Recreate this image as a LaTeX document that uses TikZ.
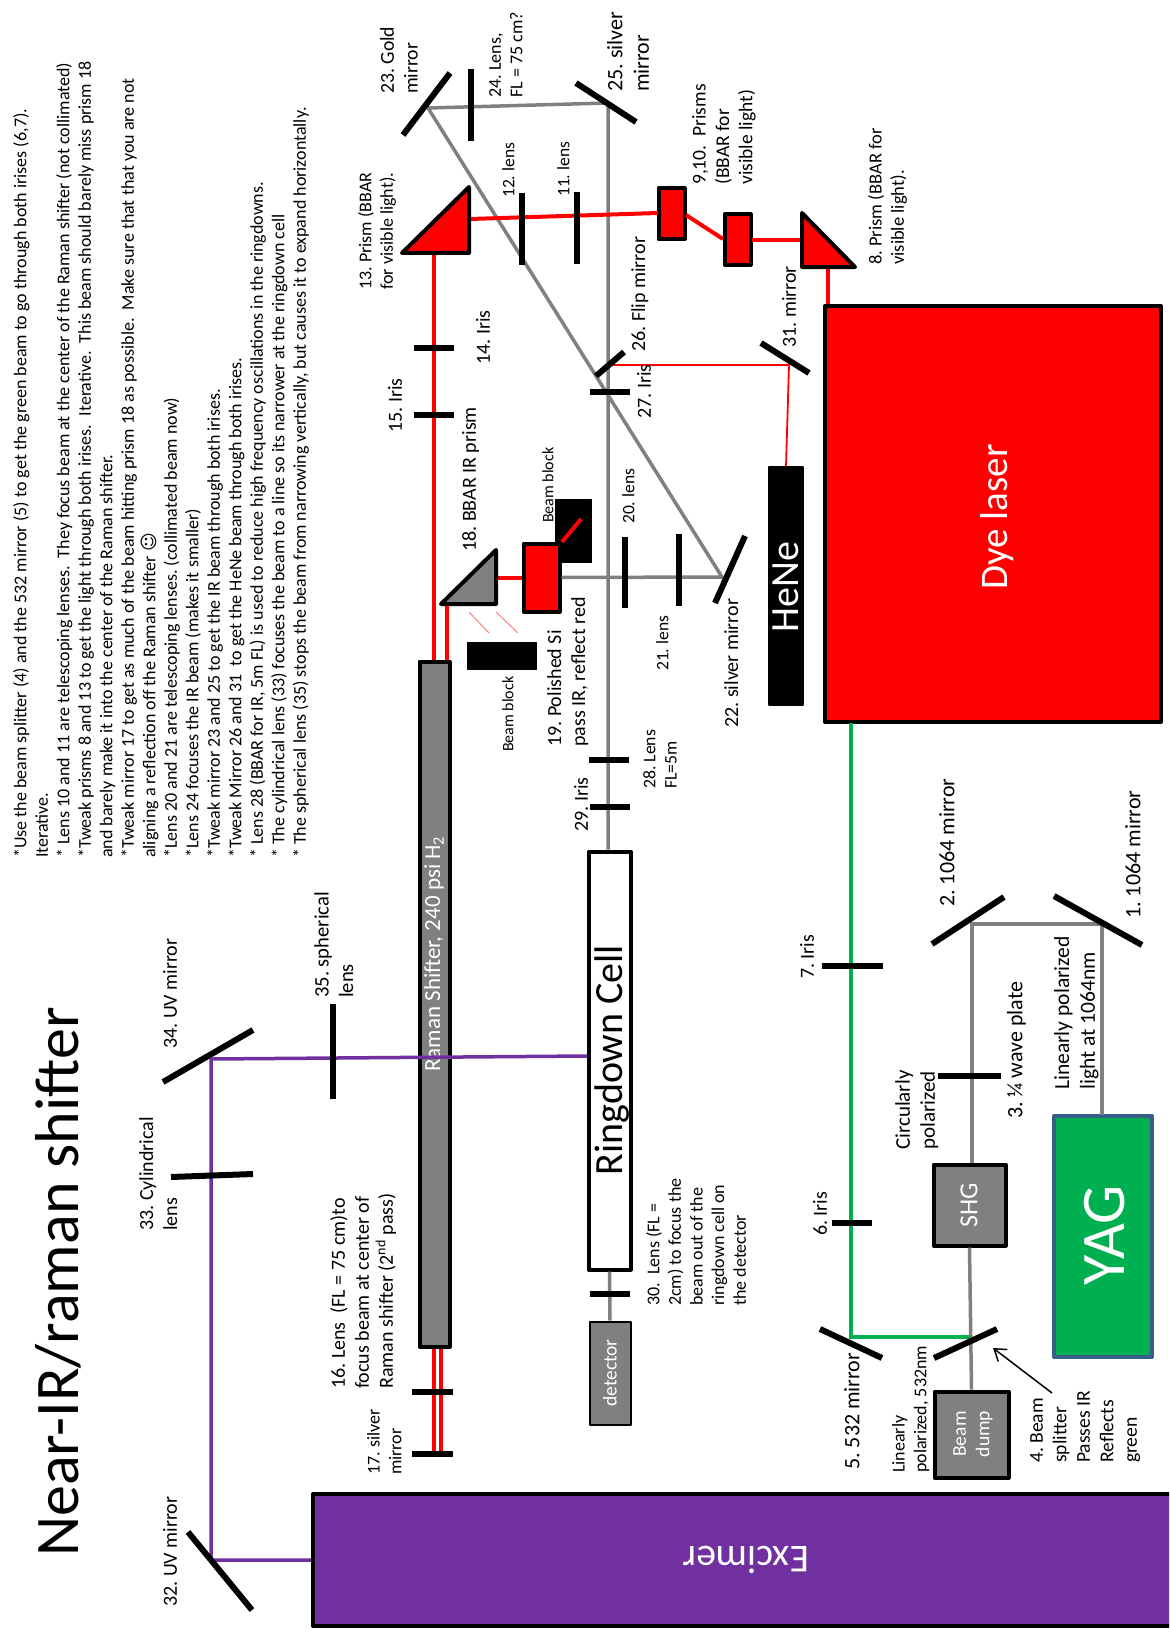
\documentclass[tikz,border=0pt]{standalone}
\usepackage{fontspec}
\setmainfont{Carlito}
\newfontfamily\symfont{DejaVu Sans}
\usetikzlibrary{arrows.meta}
\frenchspacing
\definecolor{uvpurple}{RGB}{112, 48, 160}
\definecolor{yaggreen}{RGB}{0, 176, 80}
\definecolor{yagblue}{RGB}{56, 93, 138}
\definecolor{irgray}{RGB}{128, 128, 128}
\definecolor{raypink}{RGB}{255, 128, 128}

\begin{document}
\begin{tikzpicture}[
    x=1pt, y=-1pt,
    lbl/.style={rotate=90, anchor=north west, align=left, inner sep=0pt,
        font=\fontsize{#1}{#1}\linespread{1.2}\selectfont},
    lbl/.default=20,
    mid/.style={rotate=90, anchor=center, align=center, inner sep=0pt, text=white,
        font=\fontsize{#1}{#1}\linespread{1.2}\selectfont},
    box/.style={draw=black, fill=#1, line width=4pt, inner sep=0pt, line join=round},
    optic/.style={draw=black, line width=6pt},
    irbeam/.style={draw=irgray, line width=3.5pt, line join=miter},
    redbeam/.style={draw=red, line width=4pt},
    thinred/.style={draw=red, line width=1.8pt},
    greenbeam/.style={draw=yaggreen, line width=3.5pt},
    uvbeam/.style={draw=uvpurple, line width=3.5pt},
    prism/.style={draw=black, fill=#1, line width=4pt, line join=round}
]
    \useasboundingbox (0,0) rectangle (1169,1637);
    \clip (0,0) rectangle (1169,1637);

    % Boxes
    \node[box=red, minimum width=336pt, minimum height=416pt] (dye) at (993,514) {};
    \node[box=black, line width=2pt, minimum width=34pt, minimum height=238pt] (hene) at (786,586) {};
    \node[box=yaggreen, draw=yagblue, minimum width=98pt, minimum height=241pt] (yag) at (1103,1236.5) {};
    \node[box=irgray, minimum width=72pt, minimum height=81pt] (shg) at (969.5,1205) {};
    \node[box=irgray, minimum width=74pt, minimum height=86pt] (dump) at (971.5,1434.5) {};
    \node[box=irgray, line width=2pt, minimum width=41pt, minimum height=103pt] (detector) at (610,1373) {};
    \node[box=white, minimum width=42pt, minimum height=418pt] (ring) at (609.5,1060.5) {};
    \node[box=irgray, minimum width=30pt, minimum height=685pt] (raman) at (434.5,1004) {};
    \node[box=uvpurple, minimum width=864pt, minimum height=132pt] (excimer) at (745,1560) {};
    \node[box=black, line width=1pt, minimum width=36pt, minimum height=63pt] (block_top) at (573.5,531) {};
    \node[box=black, line width=1pt, minimum width=69pt, minimum height=27pt] (block_low) at (502,656) {};
    \node[box=red, minimum width=26pt, minimum height=51pt] (p9) at (671.5,214) {};
    \node[box=red, minimum width=26pt, minimum height=50pt] (p10) at (737.5,239.5) {};
    \node[box=red, minimum width=36pt, minimum height=68pt] (p19) at (541.5,577.5) {};

    % Text inside the boxes
    \node[mid=39] (dye_txt) at (997,517) {Dye laser};
    \node[mid=40] (hene_txt) at (786,587) {HeNe};
    \node[mid=62] (yag_txt) at (1105,1235) {YAG};
    \node[mid=26] (shg_txt) at (969,1205) {SHG};
    \node[mid=19.5] (dump_txt) at (973,1434) {Beam\\dump};
    \node[mid=19.5] (detector_txt) at (610,1373) {detector};
    \node[mid=40, text=black] (ring_txt) at (612,1060) {Ringdown Cell};
    \node[mid=23] (raman_txt) at (434,954) {Raman Shifter, 240 psi H\textsubscript{2}};
    \node[mid=39.5, rotate=90] (excimer_txt) at (746,1560) {Excimer};

    % Coordinates
    \coordinate (yag_out)  at (1102,1115);
    \coordinate (m1)       at (1102,924);
    \coordinate (m2)       at (972,924);
    \coordinate (m4)       at (970,1337);
    \coordinate (m5)       at (851,1337);
    \coordinate (m22)      at (722,577);
    \coordinate (m23)      at (428,108);
    \coordinate (m25)      at (608,103);
    \coordinate (p13_in)   at (470,219);
    \coordinate (p13_out)  at (434,253);
    \coordinate (p9_in)    at (658,213);
    \coordinate (p9_out)   at (686,215);
    \coordinate (p10_in)   at (723,239);
    \coordinate (p10_out)  at (752,240);
    \coordinate (p8_in)    at (802,240);
    \coordinate (p8_out)   at (828,267);
    \coordinate (p18_in)   at (497,577.5);
    \coordinate (p18_out)  at (447,604);
    \coordinate (m17_a)    at (434,1454);
    \coordinate (m17_b)    at (441,1454);
    \coordinate (m26)      at (612,365);
    \coordinate (m31)      at (789,365);
    \coordinate (m32)      at (211,1560);
    \coordinate (m34)      at (211,1059);
    \coordinate (ring_in)  at (587,1056);
    \coordinate (green_out) at (851,723);

    % Gray beams
    \draw[irbeam] (yag_out) -- (m1) -- (m2) -- (shg.north -| m2);
    \draw[irbeam] (shg.south) -- (dump.north);
    \draw[irbeam] (p19.east) -- (m22) -- (m23) -- (m25) -- (m25 |- ring.north);
    \draw[irbeam] (ring.south) -- (detector.north);

    % Red beams
    \draw[redbeam] (p13_in) -- (p9_in);
    \draw[redbeam] (p9_out) -- (p10_in);
    \draw[redbeam] (p10_out) -- (p8_in);
    \draw[redbeam] (p8_out) -- (p8_out |- dye.north);
    \draw[redbeam] (p13_out) -- (p13_out |- raman.north);
    \draw[redbeam] (p18_out) -- (p18_out |- raman.north);
    \draw[redbeam] (p18_in) -- (p19.west);
    \draw[redbeam] (m17_a |- raman.south) -- (m17_a);
    \draw[redbeam] (m17_b |- raman.south) -- (m17_b);
    \draw[thinred] (hene.north) -- (m31) -- (m26);
    \draw[redbeam] (562,542) -- (581,519);
    \draw[draw=raypink, line width=1pt] (469,612) -- (489,633);
    \draw[draw=raypink, line width=1pt] (496,612) -- (518,633);

    % Green and UV beams
    \draw[greenbeam] (green_out) -- (m5) -- (m4);
    \draw[uvbeam] (excimer.west |- m32) -- (m32) -- (m34) -- (ring_in);

    % Mirrors and lenses
    \draw[optic] (450,73) -- (403,135);
    \draw[optic] (471,69) -- (471,141);
    \draw[optic] (576,83) -- (636,122);
    \draw[optic] (745,536) -- (715,603);
    \draw[optic] (625,537) -- (625,608);
    \draw[optic] (679,534) -- (679,606);
    \draw[optic] (522,193) -- (522,265);
    \draw[optic] (577,192) -- (577,264);
    \draw[optic] (761,343) -- (809,373);
    \draw[optic] (624,352) -- (596,376);
    \draw[optic] (590,392) -- (630,392);
    \draw[optic] (414,348) -- (454,348);
    \draw[optic] (414,415) -- (454,415);
    \draw[optic] (589,760) -- (629,760);
    \draw[optic] (590,807) -- (630,807);
    \draw[optic] (590,1294) -- (630,1294);
    \draw[optic] (412,1392) -- (453,1392);
    \draw[optic] (412,1454) -- (453,1454);
    \draw[optic] (188,1532) -- (252,1610);
    \draw[optic] (163,1082) -- (253,1030);
    \draw[optic] (171,1177) -- (253,1174);
    \draw[optic] (333,1004) -- (333,1099);
    \draw[optic] (822,966) -- (883,966);
    \draw[optic] (832,1223) -- (872,1223);
    \draw[optic] (820,1329) -- (882,1358);
    \draw[optic] (997,1329) -- (934,1358);
    \draw[optic] (1004,897) -- (932,944);
    \draw[optic] (1054,896) -- (1142,945);
    \draw[optic] (938,1076) -- (1001,1076);

    % Prisms
    \draw[prism=red] (469,187) -- (469,253) -- (402,253) -- cycle;
    \draw[prism=red] (802,213) -- (802,267) -- (855,267) -- cycle;
    \draw[prism=irgray] (496,550) -- (496,604) -- (441,604) -- cycle;

    % Arrow to the beam splitter
    \coordinate (arrow_tail) at (1052,1393);
    \coordinate (arrow_head) at (993,1348);
    \draw[-{Straight Barb[length=11pt,width=15pt]}, line width=1.5pt] (arrow_tail) -- (arrow_head);

    % Labels
    \node[lbl=19.7] (l23) at (380,94) {23. Gold\\mirror};
    \node[lbl=18] (l24) at (489,98) {24. Lens,\\FL = 75 cm?};
    \node[lbl=22] (l25) at (607,92) {25. silver\\mirror};
    \node[lbl=17.5] (l12) at (502,198) {12. lens};
    \node[lbl=17.5] (l11) at (557,197) {11. lens};
    \node[lbl=19.5] (l9) at (692,185) {9,10.~~Prisms\\(BBAR for\\visible light)};
    \node[lbl=18] (l13) at (358,290) {13. Prism (BBAR\\for visible light).};
    \node[lbl=18.5] (l8) at (868,265) {8. Prism (BBAR for\\visible light).};
    \node[lbl] (l31) at (782,348) {31. mirror};
    \node[lbl] (l26) at (631,352) {26. Flip mirror};
    \node[lbl] (l27) at (637,419) {27. Iris};
    \node[lbl] (l14) at (476,365) {14. Iris};
    \node[lbl] (l15) at (388,433) {15. Iris};
    \node[lbl] (l18) at (462,552) {18. BBAR IR prism};
    \node[lbl=16] (l_block_top) at (542,523) {Beam block};
    \node[lbl=16] (l_block_low) at (502,752) {Beam block};
    \node[lbl] (l19) at (547,747) {19. Polished Si\\pass IR, reflect red};
    \node[lbl=17.5] (l20) at (622,524) {20. lens};
    \node[lbl=17.5] (l21) at (656,671) {21. lens};
    \node[lbl] (l22) at (724,728) {22. silver mirror};
    \node[lbl=17.7] (l28) at (643,789) {28. Lens\\FL=5m};
    \node[lbl] (l29) at (574,832) {29. Iris};
    \node[lbl=18] (l30) at (646,1306) {30.~~Lens (FL =\\2cm) to focus the\\beam out of the\\ringdown cell on\\the detector};
    \node[lbl=22] (l2) at (939,907) {2. 1064 mirror};
    \node[lbl=22] (l1) at (1125,919) {1. 1064 mirror};
    \node[lbl=22] (l3) at (1007,1119) {3. ¼ wave plate};
    \node[lbl=21.5] (l_yag) at (1054,1090) {Linearly polarized\\light at 1064nm};
    \node[lbl=21] (l_shg) at (895,1150) {Circularly\\polarized};
    \node[lbl] (l7) at (800,979) {7. Iris};
    \node[lbl] (l6) at (813,1236) {6. Iris};
    \node[lbl=22] (l5) at (844,1470) {5. 532 mirror};
    \node[lbl=18] (l_dump) at (892,1473) {Linearly\\polarized, 532nm};
    \node[lbl=19.6] (l4) at (1030,1463) {4. Beam\\splitter\\Passes IR\\Reflects\\green};
    \node[lbl] (l16) at (330,1389) {16. Lens~~(FL = 75 cm)to\\focus beam at center of\\Raman shifter (2\textsuperscript{nd} pass)};
    \node[lbl=18] (l17) at (367,1475) {17. silver\\mirror};
    \node[lbl=20] (l33) at (139,1231) {33. Cylindrical\\lens};
    \node[lbl] (l34) at (163,1049) {34. UV mirror};
    \node[lbl] (l32) at (163,1607) {32. UV mirror};
    \node[lbl=20.6] (l35) at (314,998) {35. spherical\\lens};

    % Title and notes
    \node[lbl=62] (title) at (35,1557) {Near-IR/raman shifter};
    \node[rotate=90, anchor=north west, align=left, inner sep=0pt,
        font=\fontsize{18}{21.5}\selectfont] (notes) at (13,858) {%
        *Use the beam splitter (4) and the 532 mirror (5) to get the green beam to go through both irises (6,7).\\
        Iterative.\\
        * Lens 10 and 11 are telescoping lenses.~~They focus beam at the center of the Raman shifter (not collimated)\\
        *Tweak prisms 8 and 13 to get the light through both irises.~~Iterative.~~This beam should barely miss prism 18\\
        and barely make it into the center of the Raman shifter.\\
        *Tweak mirror 17 to get as much of the beam hitting prism 18 as possible.~~Make sure that that you are not\\
        aligning a reflection off the Raman shifter {\symfont ☺}\\
        *Lens 20 and 21 are telescoping lenses. (collimated beam now)\\
        *Lens 24 focuses the IR beam (makes it smaller)\\
        *Tweak mirror 23 and 25 to get the IR beam through both irises.\\
        *Tweak Mirror 26 and 31~~to get the HeNe beam through both irises.\\
        * Lens 28 (BBAR for IR, 5m FL) is used to reduce high frequency oscillations in the ringdowns.\\
        * The cylindrical lens (33) focuses the beam to a line so its narrower at the ringdown cell\\
        * The spherical lens (35) stops the beam from narrowing vertically, but causes it to expand horizontally.};

\end{tikzpicture}
\end{document}
